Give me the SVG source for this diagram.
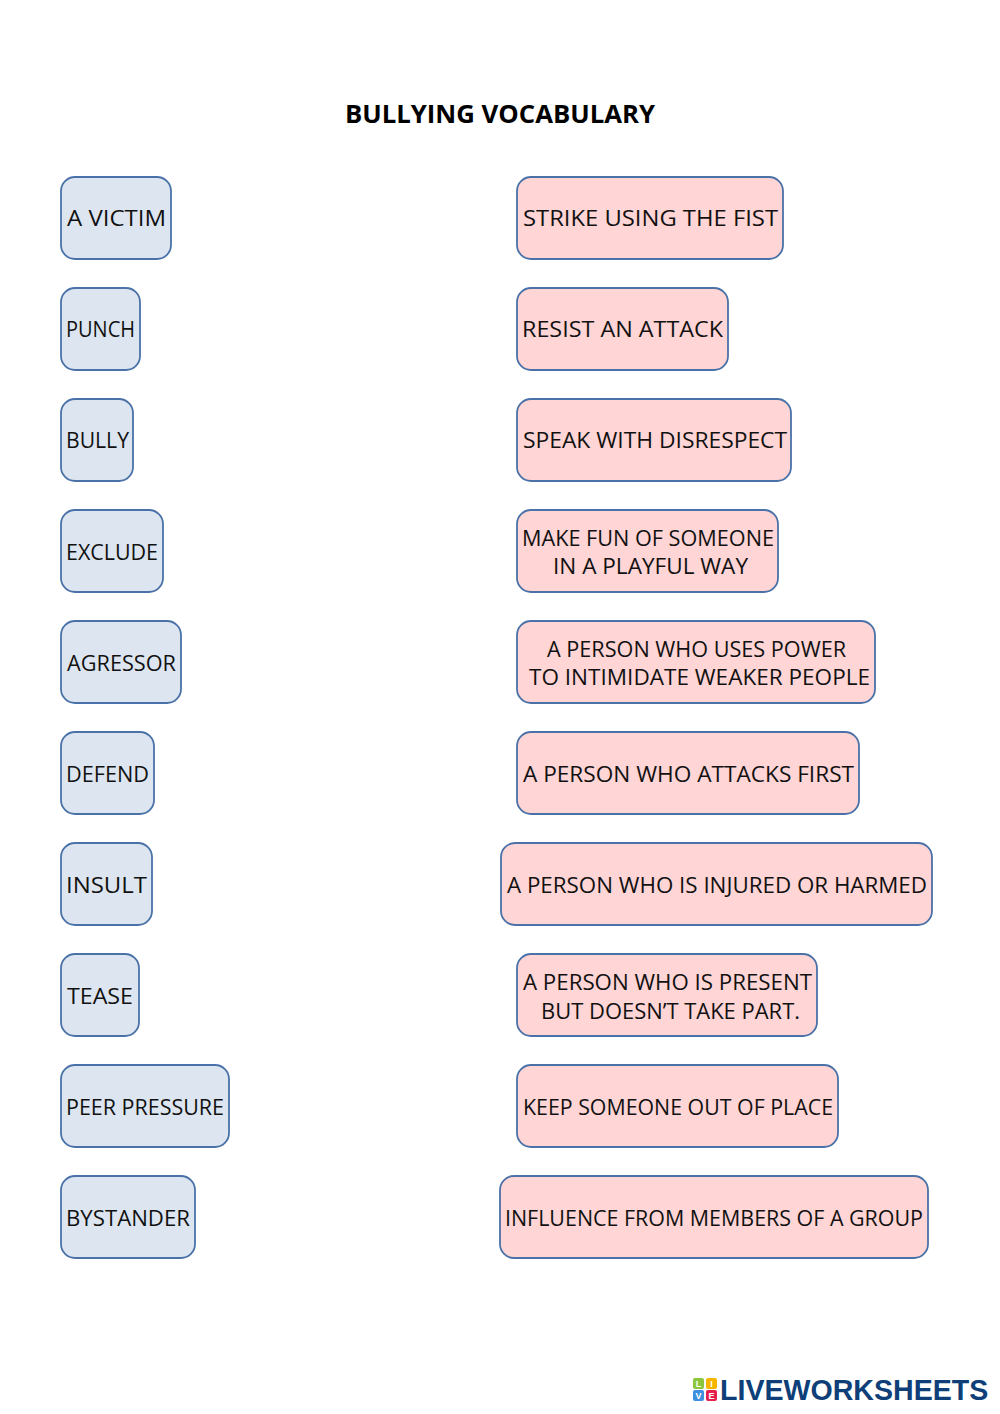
<svg xmlns="http://www.w3.org/2000/svg" width="1000" height="1414" viewBox="0 0 1000 1414">
<style>
.l rect{fill:#dde6f0;stroke:#4a72a8;stroke-width:1.8}
.r rect{fill:#ffd5d5;stroke:#4a72a8;stroke-width:1.8}
text{font-family:"Open Sans","Liberation Sans",sans-serif;font-size:22px;fill:#111}
.t{font-weight:700;font-size:25px;fill:#000}
.b{font-family:"Liberation Sans",sans-serif;font-weight:700;font-size:30px;fill:#0f3f78}
.s{font-family:"Liberation Sans",sans-serif;font-weight:700;font-size:9px;fill:#fff;text-anchor:middle}
</style>
<rect width="1000" height="1414" fill="#fff"/>
<g id="title"><text class="t" x="345" y="123" textLength="310" lengthAdjust="spacingAndGlyphs">BULLYING VOCABULARY</text></g>
<g id="connectors"/>
<g id="left">
<g id="l1" class="l"><rect x="61" y="177" width="110" height="82" rx="14"/><text x="67" y="226" textLength="99" lengthAdjust="spacingAndGlyphs">A VICTIM</text></g>
<g id="l2" class="l"><rect x="61" y="288" width="79" height="82" rx="14"/><text x="66" y="337" textLength="69" lengthAdjust="spacingAndGlyphs">PUNCH</text></g>
<g id="l3" class="l"><rect x="61" y="399" width="72" height="82" rx="14"/><text x="66" y="448" textLength="63" lengthAdjust="spacingAndGlyphs">BULLY</text></g>
<g id="l4" class="l"><rect x="61" y="510" width="102" height="82" rx="14"/><text x="66" y="560" textLength="92" lengthAdjust="spacingAndGlyphs">EXCLUDE</text></g>
<g id="l5" class="l"><rect x="61" y="621" width="120" height="82" rx="14"/><text x="67" y="671" textLength="109" lengthAdjust="spacingAndGlyphs">AGRESSOR</text></g>
<g id="l6" class="l"><rect x="61" y="732" width="93" height="82" rx="14"/><text x="66" y="782" textLength="83" lengthAdjust="spacingAndGlyphs">DEFEND</text></g>
<g id="l7" class="l"><rect x="61" y="843" width="91" height="82" rx="14"/><text x="66" y="893" textLength="81" lengthAdjust="spacingAndGlyphs">INSULT</text></g>
<g id="l8" class="l"><rect x="61" y="954" width="78" height="82" rx="14"/><text x="67" y="1004" textLength="66" lengthAdjust="spacingAndGlyphs">TEASE</text></g>
<g id="l9" class="l"><rect x="61" y="1065" width="168" height="82" rx="14"/><text x="66" y="1115" textLength="158" lengthAdjust="spacingAndGlyphs">PEER PRESSURE</text></g>
<g id="l10" class="l"><rect x="61" y="1176" width="134" height="82" rx="14"/><text x="66" y="1226" textLength="124" lengthAdjust="spacingAndGlyphs">BYSTANDER</text></g>
</g>
<g id="right">
<g id="r1" class="r"><rect x="517" y="177" width="266" height="82" rx="14"/><text x="523" y="226" textLength="255" lengthAdjust="spacingAndGlyphs">STRIKE USING THE FIST</text></g>
<g id="r2" class="r"><rect x="517" y="288" width="211" height="82" rx="14"/><text x="522" y="337" textLength="201" lengthAdjust="spacingAndGlyphs">RESIST AN ATTACK</text></g>
<g id="r3" class="r"><rect x="517" y="399" width="274" height="82" rx="14"/><text x="523" y="448" textLength="264" lengthAdjust="spacingAndGlyphs">SPEAK WITH DISRESPECT</text></g>
<g id="r4" class="r"><rect x="517" y="510" width="261" height="82" rx="14"/><text x="522" y="546" textLength="252" lengthAdjust="spacingAndGlyphs">MAKE FUN OF SOMEONE</text><text x="553" y="574" textLength="195" lengthAdjust="spacingAndGlyphs">IN A PLAYFUL WAY</text></g>
<g id="r5" class="r"><rect x="517" y="621" width="358" height="82" rx="14"/><text x="547" y="657" textLength="299" lengthAdjust="spacingAndGlyphs">A PERSON WHO USES POWER</text><text x="529" y="685" textLength="341" lengthAdjust="spacingAndGlyphs">TO INTIMIDATE WEAKER PEOPLE</text></g>
<g id="r6" class="r"><rect x="517" y="732" width="342" height="82" rx="14"/><text x="523" y="782" textLength="331" lengthAdjust="spacingAndGlyphs">A PERSON WHO ATTACKS FIRST</text></g>
<g id="r7" class="r"><rect x="501" y="843" width="431" height="82" rx="14"/><text x="507" y="893" textLength="420" lengthAdjust="spacingAndGlyphs">A PERSON WHO IS INJURED OR HARMED</text></g>
<g id="r8" class="r"><rect x="517" y="954" width="300" height="82" rx="14"/><text x="523" y="990" textLength="289" lengthAdjust="spacingAndGlyphs">A PERSON WHO IS PRESENT</text><text x="541" y="1019" textLength="259" lengthAdjust="spacingAndGlyphs">BUT DOESN’T TAKE PART.</text></g>
<g id="r9" class="r"><rect x="517" y="1065" width="321" height="82" rx="14"/><text x="523" y="1115" textLength="310" lengthAdjust="spacingAndGlyphs">KEEP SOMEONE OUT OF PLACE</text></g>
<g id="r10" class="r"><rect x="500" y="1176" width="428" height="82" rx="14"/><text x="505" y="1226" textLength="418" lengthAdjust="spacingAndGlyphs">INFLUENCE FROM MEMBERS OF A GROUP</text></g>
</g>
<g id="logo">
<rect x="693" y="1378" width="11" height="11" rx="2" fill="#8cc63f"/><text class="s" x="698.5" y="1387">L</text>
<rect x="706" y="1378" width="11" height="11" rx="2" fill="#f7b500"/><text class="s" x="711.5" y="1387">I</text>
<rect x="693" y="1390" width="11" height="11" rx="2" fill="#3f8fe0"/><text class="s" x="698.5" y="1399">V</text>
<rect x="706" y="1390" width="11" height="11" rx="2" fill="#e5204e"/><text class="s" x="711.5" y="1399">E</text>
<text class="b" transform="translate(720 1400) scale(0.86 1)" x="0" y="0" textLength="312" lengthAdjust="spacingAndGlyphs">LIVEWORKSHEETS</text>
</g>
</svg>
